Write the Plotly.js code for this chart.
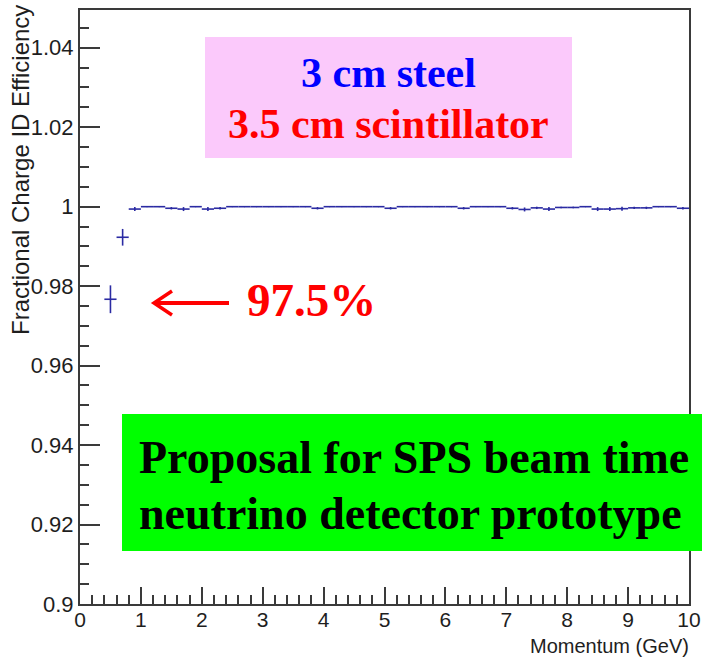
<!DOCTYPE html>
<html>
<head>
<meta charset="utf-8">
<script src="https://cdn.plot.ly/plotly-3.0.1.min.js"></script>
<style>
  html, body { margin: 0; padding: 0; background: #ffffff; }
  #chart { width: 702px; height: 658px; }
</style>
</head>
<body>
<div id="chart"></div>
<script>
// Momentum bin centres (GeV), 0.2 GeV wide bins
const momentum = [0.5, 0.7, 0.9, 1.1, 1.3, 1.5, 1.7, 1.9, 2.1, 2.3,
                  2.5, 2.7, 2.9, 3.1, 3.3, 3.5, 3.7, 3.9, 4.1, 4.3,
                  4.5, 4.7, 4.9, 5.1, 5.3, 5.5, 5.7, 5.9, 6.1, 6.3,
                  6.5, 6.7, 6.9, 7.1, 7.3, 7.5, 7.7, 7.9, 8.1, 8.3,
                  8.5, 8.7, 8.9, 9.1, 9.3, 9.5, 9.7, 9.9];

// Fractional charge ID efficiency per bin
const efficiency = [0.9767, 0.9923, 0.9994, 1.0, 1.0, 0.9996, 0.9994, 1.0, 0.9994, 0.9996,
                    1.0, 1.0, 1.0, 1.0, 1.0, 1.0, 1.0, 0.9996, 1.0, 1.0,
                    1.0, 1.0, 1.0, 0.9996, 1.0, 1.0, 1.0, 1.0, 1.0, 0.9996,
                    1.0, 1.0, 1.0, 0.9996, 0.9993, 0.9997, 0.9994, 0.9998, 0.9998, 1.0,
                    0.9994, 0.9994, 0.9995, 0.9997, 0.9997, 1.0, 1.0, 0.9996];

// Statistical uncertainty on the efficiency
const effError = [0.0035, 0.0021, 0.0005, 0, 0, 0.0003, 0.0005, 0, 0.0005, 0.0003,
                  0, 0, 0, 0, 0, 0, 0, 0.0003, 0, 0,
                  0, 0, 0, 0.0003, 0, 0, 0, 0, 0, 0.0003,
                  0, 0, 0, 0.0003, 0.0005, 0.0003, 0.0005, 0.0002, 0.0002, 0,
                  0.0005, 0.0005, 0.0005, 0.0003, 0.0003, 0, 0, 0.0003];

const halfBin = 0.1;

const yTickVals = [0.9, 0.92, 0.94, 0.96, 0.98, 1.0, 1.02, 1.04];
const yTickText = ["0.9", "0.92", "0.94", "0.96", "0.98", "1", "1.02", "1.04"];
const xTickVals = [0, 1, 2, 3, 4, 5, 6, 7, 8, 9, 10];
const xTickText = ["0", "1", "2", "3", "4", "5", "6", "7", "8", "9", "10"];

// Plot frame in pixels, used to place the overlay boxes and labels
const W = 702, H = 658;
const L = 80, R = 689, T = 10, B = 604;
const px = x => (x - L) / (R - L);
const py = y => (B - y) / (B - T);

const markColor = '#2b2ba3';
const serif = 'Liberation Serif, Times New Roman, serif';
const sans = 'Liberation Sans, Arial, Helvetica, sans-serif';

const trace = {
  x: momentum,
  y: efficiency,
  type: 'scatter',
  mode: 'markers',
  marker: { size: 1, color: markColor },
  error_x: { type: 'constant', value: halfBin, width: 0, thickness: 1.6, color: markColor },
  error_y: { type: 'data', array: effError, visible: true, width: 0, thickness: 1.6, color: markColor },
  hoverinfo: 'x+y'
};

const axisCommon = {
  showline: true,
  linecolor: '#3a3a3a',
  linewidth: 2,
  mirror: true,
  showgrid: false,
  zeroline: false,
  ticks: 'inside',
  tickcolor: '#3a3a3a',
  tickwidth: 2
};

const layout = {
  width: W,
  height: H,
  margin: { l: L, r: W - R, t: T, b: H - B, pad: 0 },
  paper_bgcolor: '#ffffff',
  plot_bgcolor: '#ffffff',
  showlegend: false,
  xaxis: Object.assign({}, axisCommon, {
    range: [0, 10],
    tickvals: xTickVals,
    ticktext: xTickText,
    ticklen: 17,
    ticklabelstandoff: -4,
    tickfont: { family: sans, size: 21, color: '#1e1e1e' },
    minor: { dtick: 0.2, ticks: 'inside', ticklen: 9, tickcolor: '#3a3a3a', tickwidth: 2 }
  }),
  yaxis: Object.assign({}, axisCommon, {
    range: [0.9, 1.0495],
    tickvals: yTickVals,
    ticktext: yTickText,
    ticklen: 20,
    tickfont: { family: sans, size: 22, color: '#1e1e1e' },
    minor: { dtick: 0.005, ticks: 'inside', ticklen: 9, tickcolor: '#3a3a3a', tickwidth: 2 }
  }),
  shapes: [
    // pink legend box for the detector layout
    { type: 'rect', xref: 'paper', yref: 'paper', layer: 'above',
      x0: px(205), x1: px(572), y0: py(158), y1: py(37),
      fillcolor: '#fbc9fb', line: { width: 0 } },
    // green banner
    { type: 'rect', xref: 'paper', yref: 'paper', layer: 'above',
      x0: px(122), x1: px(760), y0: py(551), y1: py(414),
      fillcolor: '#00ff00', line: { width: 0 } },
    // red arrow pointing at the lowest bin
    { type: 'path', xref: 'paper', yref: 'paper', layer: 'above',
      path: `M ${px(229)} ${py(303)} L ${px(155)} ${py(303)}`,
      line: { color: '#ff0000', width: 4 } },
    { type: 'path', xref: 'paper', yref: 'paper', layer: 'above',
      path: `M ${px(172)} ${py(291)} L ${px(154)} ${py(303)} L ${px(172)} ${py(315)}`,
      line: { color: '#ff0000', width: 3.5 } }
  ],
  annotations: [
    { text: 'Fractional Charge ID Efficiency', xref: 'paper', yref: 'paper',
      x: px(20), y: py(170), xanchor: 'center', yanchor: 'middle', textangle: -90,
      showarrow: false, font: { family: sans, size: 24, color: '#1e1e1e' } },
    { text: 'Momentum (GeV)', xref: 'paper', yref: 'paper',
      x: px(691), y: py(633), xanchor: 'right', yanchor: 'top',
      showarrow: false, font: { family: sans, size: 20, color: '#1e1e1e' } },
    { text: '<b>3 cm steel</b>', xref: 'paper', yref: 'paper',
      x: px(388), y: py(73), xanchor: 'center', yanchor: 'middle',
      showarrow: false, font: { family: serif, size: 42, color: '#0000ff' } },
    { text: '<b>3.5 cm scintillator</b>', xref: 'paper', yref: 'paper',
      x: px(388), y: py(124), xanchor: 'center', yanchor: 'middle',
      showarrow: false, font: { family: serif, size: 42, color: '#ff0000' } },
    { text: '<b>97.5%</b>', xref: 'paper', yref: 'paper',
      x: px(245), y: py(300), xanchor: 'left', yanchor: 'middle',
      showarrow: false, font: { family: serif, size: 47, color: '#ff0000' } },
    { text: '<b>Proposal for SPS beam time</b>', xref: 'paper', yref: 'paper',
      x: px(137), y: py(457), xanchor: 'left', yanchor: 'middle',
      showarrow: false, font: { family: serif, size: 46, color: '#000000' } },
    { text: '<b>neutrino detector prototype</b>', xref: 'paper', yref: 'paper',
      x: px(137), y: py(513), xanchor: 'left', yanchor: 'middle',
      showarrow: false, font: { family: serif, size: 46, color: '#000000' } }
  ]
};

Plotly.newPlot('chart', [trace], layout, { staticPlot: true, displayModeBar: false });
</script>
</body>
</html>
